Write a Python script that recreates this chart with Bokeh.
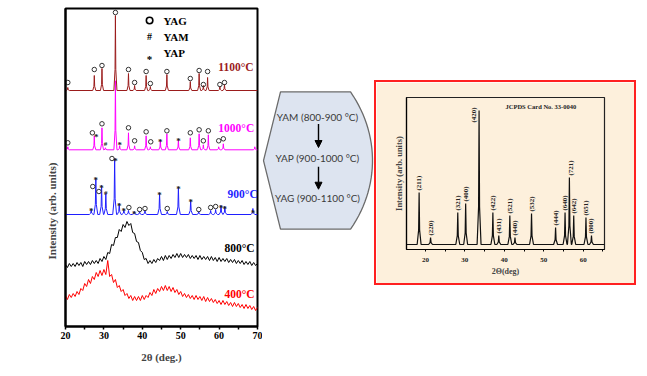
import numpy as np
from bokeh.plotting import figure
from bokeh.models import Range1d, FixedTicker, Title, Arrow, NormalHead, Spacer
from bokeh.layouts import row, column
from bokeh.core.properties import value
from bokeh.embed import file_html
from bokeh.resources import INLINE

SERIF = "Liberation Serif"

# ---------------- data: main XRD panel (heights in arb. units) ----------------
base_1100, base_1000, base_900 = 236, 176.7, 112

p1100_x = [20.6, 27.5, 29.5, 33.0, 36.4, 38.0, 41.0, 42.1, 46.4, 52.5, 54.8, 55.9, 57.0, 60.2, 61.4]
p1100_h = [3, 15, 22, 75, 17, 5, 15, 4, 16, 9, 17, 5, 13, 4, 6]

p1000_x = [20.6, 27.5, 29.5, 30.4, 33.0, 34.1, 36.4, 38.0, 41.0, 42.1, 44.7, 46.4, 49.4, 52.5, 54.8, 55.9, 57.2, 59.9, 61.1, 69.3]
p1000_h = [3, 14, 22, 2, 69, 4, 17, 4, 14, 3, 10, 16, 10, 12, 16, 5, 15, 3, 6, 3]

p900_x = [26.7, 27.9, 29.4, 30.5, 32.8, 34.0, 35.2, 36.4, 37.9, 39.3, 40.7, 44.5, 46.5, 49.4, 52.6, 54.7, 57.8, 59.1, 60.5, 61.5, 68.8]
p900_h = [5, 36, 29, 21, 56, 11, 5, 4, 3, 3, 4, 21, 3, 27, 14, 3, 4, 5, 9, 8, 6]

# amorphous patterns, sampled every 0.5 deg from 20 to 70
amorph_x = [20 + 0.5 * i for i in range(101)]
i800 = [62, 59, 63, 60, 63, 60, 64, 61, 64, 60, 65, 62, 65, 62, 66, 63, 66, 63, 68, 65,
        70, 67, 74, 73, 82, 81, 89, 89, 97, 95, 102, 99, 105, 101, 103, 94, 93, 85, 84, 76,
        74, 67, 68, 63, 66, 63, 67, 64, 68, 66, 70, 66, 71, 67, 71, 68, 72, 69, 73, 69,
        73, 69, 72, 69, 72, 68, 71, 68, 71, 67, 71, 67, 70, 67, 70, 66, 70, 66, 69, 65,
        69, 65, 68, 65, 68, 64, 67, 64, 67, 63, 66, 63, 66, 62, 65, 62, 65, 61, 64, 61, 63]
i400 = [31, 27, 32, 29, 33, 30, 35, 32, 38, 36, 43, 40, 47, 43, 50, 47, 54, 50, 56, 51,
        57, 52, 66, 50, 52, 44, 47, 39, 41, 35, 37, 31, 33, 28, 31, 26, 30, 26, 30, 26,
        31, 27, 31, 29, 34, 31, 37, 33, 38, 35, 40, 36, 41, 36, 40, 35, 39, 34, 37, 32,
        35, 30, 33, 29, 32, 28, 31, 27, 31, 27, 30, 26, 30, 25, 29, 25, 28, 24, 27, 23,
        26, 22, 26, 22, 25, 21, 24, 20, 24, 20, 23, 19, 22, 18, 22, 18, 21, 17, 20, 16, 19]

# phase markers: position, height above baseline, kind
m1100_x = [20.6, 27.5, 29.5, 33.0, 36.4, 38.0, 41.0, 42.1, 46.4, 52.5, 54.8, 55.9, 57.0, 60.2, 61.4]
m1100_h = [8, 21, 25, 78, 21, 8, 19, 7, 19, 12, 20, 6, 19, 6, 8]
m1100_k = ["o"] * 15

m1000_x = [20.6, 27.0, 28.0, 29.5, 30.4, 34.1, 36.4, 38.0, 41.0, 42.2, 44.7, 46.4, 49.4, 52.5, 54.8, 55.9, 57.2, 59.9, 61.1]
m1000_h = [7, 17, 18, 26, 6, 10, 22, 9, 18, 8, 13, 19, 14, 17, 20, 9, 19, 9, 11]
m1000_k = ["o", "o", "*", "o", "#", "*", "o", "o", "o", "o", "*", "o", "*", "o", "o", "o", "o", "o", "o"]

m900_x = [26.7, 27.1, 27.9, 28.7, 29.4, 30.5, 32.1, 33.0, 34.0, 35.2, 36.5, 37.9, 39.3, 40.7, 44.5, 46.5, 49.4, 52.6, 54.7, 57.8, 59.1, 60.5, 61.5, 68.8]
m900_h = [9, 28, 40, 23, 32, 22, 56, 59, 14, 9, 7, 6, 5, 6, 25, 6, 31, 18, 5, 7, 8, 12, 11, 7]
m900_k = ["*", "o", "*", "o", "*", "#", "o", "*", "*", "*", "o", "*", "o", "o", "*", "o", "*", "*", "o", "o", "o", "*", "*", "*"]

temps = ["1100°C", "1000°C", "900°C", "800°C", "400°C"]
temp_colors = ["#9b1c1c", "#ff00ff", "#1f1fff", "#000000", "#ff0000"]
temp_x = [59.8, 59.8, 62.2, 61.4, 61.4]
temp_y = [260, 199, 133, 79, 33]

legend_sym = ["o", "#", "*"]
legend_txt = ["YAG", "YAM", "YAP"]
legend_y = [306, 290, 274]

x_ticks = [20, 30, 40, 50, 60, 70]
x_minor = [25, 35, 45, 55, 65]

# ---------------- data: JCPDS reference inset ----------------
jc_base = 5
jc_x = [18.4, 21.3, 28.2, 30.2, 33.6, 37.1, 38.6, 41.4, 42.7, 46.9, 53.0, 55.4, 56.5, 57.6, 60.7, 62.1]
jc_h = [52, 7, 32, 41, 134, 32, 9, 29, 7, 31, 17, 32, 67, 29, 27, 9]
jc_hkl = ["(211)", "(220)", "(321)", "(400)", "(420)", "(422)", "(431)", "(521)",
          "(440)", "(532)", "(444)", "(640)", "(721)", "(642)", "(651)", "(800)"]
jc_ticks = [20, 30, 40, 50, 60]
jc_minor = [15, 25, 35, 45, 55, 65]

steps = ["YAM (800-900 °C)", "YAP (900-1000 °C)", "YAG (900-1100 °C)"]


def pattern(pos, hgt, base, w, x0, x1):
    xs, ys = [x0], [base]
    for p, h in sorted(zip(pos, hgt)):
        xs += [p - w, p - 0.25 * w, p, p + 0.25 * w, p + w]
        ys += [base, base + 0.28 * h, base + h, base + 0.28 * h, base]
    xs.append(x1)
    ys.append(base)
    return xs, ys


def bold_text(fig, x, y, txt, size, color="black", align="left", baseline="middle", angle=0, font=SERIF, style="bold"):
    fig.text(x=x, y=y, text=txt, text_font=value(font), text_font_size=size,
             text_font_style=style, text_color=color, text_align=align,
             text_baseline=baseline, angle=angle)


# ================= left: XRD patterns =================
p1 = figure(width=262, height=366, x_range=Range1d(20, 70), y_range=Range1d(0, 318),
            output_backend="svg", toolbar_location=None,
            min_border_left=65, min_border_right=5, min_border_top=8, min_border_bottom=40)
p1.xgrid.visible = False
p1.ygrid.visible = False
p1.outline_line_color = "black"
p1.outline_line_width = 2
p1.outline_line_alpha = 1

xa = p1.xaxis[0]
xa.ticker = FixedTicker(ticks=x_ticks, minor_ticks=x_minor)
xa.axis_line_width = 2
xa.major_tick_in = 0
xa.major_tick_out = 3
xa.minor_tick_in = 0
xa.minor_tick_out = 3
xa.major_tick_line_width = 1.5
xa.minor_tick_line_width = 1.5
xa.major_label_standoff = 2
xa.major_label_text_font = SERIF
xa.major_label_text_font_style = "bold"
xa.major_label_text_font_size = "10px"
xa.major_label_text_color = "black"
xa.axis_label = "2θ (deg.)"
xa.axis_label_text_font = SERIF
xa.axis_label_text_font_style = "bold"
xa.axis_label_text_font_size = "11px"
xa.axis_label_standoff = 9

ya = p1.yaxis[0]
ya.ticker = FixedTicker(ticks=[])
ya.axis_line_width = 2
ya.major_label_text_font_size = "0px"
p1.add_layout(Title(text="Intensity (arb. units)", align="left", offset=67,
                    text_font=SERIF, text_font_style="bold", text_font_size="11px",
                    standoff=16), "left")

curves = [
    pattern(p1100_x, p1100_h, base_1100, 0.4, 20, 70),
    pattern(p1000_x, p1000_h, base_1000, 0.4, 20, 70),
    pattern(p900_x, p900_h, base_900, 0.5, 20, 70),
    (amorph_x, i800),
    (amorph_x, i400),
]
# draw lowest first so upper patterns overlap like the original
for (xs, ys), col in list(zip(curves, temp_colors))[::-1]:
    p1.line(xs, ys, line_color=col, line_width=1)

for mx, mh, mk, base in [(m1100_x, m1100_h, m1100_k, base_1100),
                         (m1000_x, m1000_h, m1000_k, base_1000),
                         (m900_x, m900_h, m900_k, base_900)]:
    ox = [x for x, k in zip(mx, mk) if k == "o"]
    oy = [base + h for h, k in zip(mh, mk) if k == "o"]
    p1.scatter(ox, oy, marker="circle", size=4.5, fill_color=None, line_color="#333333", line_width=1)
    for sym, sz in (("*", "9px"), ("#", "7px")):
        sx = [x for x, k in zip(mx, mk) if k == sym]
        sy = [base + h for h, k in zip(mh, mk) if k == sym]
        if sx:
            bold_text(p1, sx, sy, [sym] * len(sx), sz, color="#222222", align="center",
                      baseline="middle" if sym == "#" else "top")

for t, c, x, y in zip(temps, temp_colors, temp_x, temp_y):
    bold_text(p1, [x], [y], [t], "11.5px", color=c)

# legend
p1.scatter([41.9], [legend_y[0]], marker="circle", size=6.5, fill_color=None, line_color="black", line_width=1.6)
bold_text(p1, [41.9], [legend_y[1]], [legend_sym[1]], "10px", align="center")
bold_text(p1, [41.9], [legend_y[2]], [legend_sym[2]], "11px", align="center", baseline="top")
bold_text(p1, [45.5] * 3, legend_y, legend_txt, "11px")

# ================= middle: transformation scheme =================
p2 = figure(width=112, height=366, x_range=Range1d(0, 112), y_range=Range1d(0, 366),
            output_backend="svg", toolbar_location=None, min_border=0,
            x_axis_type=None, y_axis_type=None)
p2.grid.visible = False
p2.outline_line_color = None

ang = np.linspace(np.radians(31.1), np.radians(-31.1), 30)
arc_x = list(-42.8 + 152.8 * np.cos(ang))
arc_y = list(191 + 152.8 * np.sin(ang))
shape_x = [1, 18] + arc_x + [18]
shape_y = [191, 270] + arc_y + [112]
p2.patch(shape_x, shape_y, fill_color="#dde4f0", line_color="#6b6b6b", line_width=1.3)

bold_text(p2, [55] * 3, [241, 194, 148], steps, "10px", color="#3a3a3a", align="center",
          font="Lato", style="normal")
for y0, y1 in [(233, 206), (184, 158)]:
    p2.add_layout(Arrow(end=NormalHead(size=7, fill_color="black", line_color="black"),
                        x_start=56, y_start=y0, x_end=56, y_end=y1,
                        line_color="black", line_width=1.4))

# ================= right: JCPDS inset =================
p3 = figure(width=262, height=205, x_range=Range1d(15.2, 65.4), y_range=Range1d(0, 152),
            output_backend="svg", toolbar_location=None,
            min_border_left=30, min_border_right=34, min_border_top=15, min_border_bottom=38,
            background_fill_color="#fdf0dc", border_fill_color="#fdf0dc")
p3.styles = {"border": "2px solid #ff2020"}
p3.xgrid.visible = False
p3.ygrid.visible = False
p3.outline_line_color = "#222222"
p3.outline_line_width = 1.2
p3.outline_line_alpha = 1

xa3 = p3.xaxis[0]
xa3.ticker = FixedTicker(ticks=jc_ticks, minor_ticks=jc_minor)
xa3.axis_line_width = 1.2
xa3.major_tick_in = 0
xa3.major_tick_out = 2
xa3.minor_tick_in = 0
xa3.minor_tick_out = 2
xa3.major_label_standoff = 6
xa3.major_label_text_font = SERIF
xa3.major_label_text_font_style = "bold"
xa3.major_label_text_font_size = "7px"
xa3.major_label_text_color = "#222222"
xa3.axis_label = "2Θ(deg)"
xa3.axis_label_text_font = SERIF
xa3.axis_label_text_font_style = "bold"
xa3.axis_label_text_font_size = "8px"
xa3.axis_label_standoff = 2

ya3 = p3.yaxis[0]
ya3.ticker = FixedTicker(ticks=[])
ya3.axis_line_width = 1.2
ya3.major_label_text_font_size = "0px"
ya3.axis_label = "Intensity (arb. units)"
ya3.axis_label_text_font = SERIF
ya3.axis_label_text_font_style = "bold"
ya3.axis_label_text_font_size = "8.5px"
ya3.axis_label_standoff = 3

jx, jy = pattern(jc_x, jc_h, jc_base, 0.5, 15.2, 65.4)
p3.line(jx, jy, line_color="#111111", line_width=1.2)

lab_x = [x for x in jc_x]
lab_y = [jc_base + h + 2 for h in jc_h]
i420 = jc_hkl.index("(420)")
lab_x[i420] = 32.4
lab_y[i420] = 127
i721 = jc_hkl.index("(721)")
lab_x[i721] = 56.8
bold_text(p3, lab_x, lab_y, jc_hkl, "7px", color="#222222", baseline="middle", angle=np.pi / 2)
bold_text(p3, [40.3], [143.3], ["JCPDS Card No. 33-0040"], "6.5px", color="#222222")

layout = row(p1, p2, column(Spacer(height=80), p3))

open("out.html", "w").write(file_html(layout, INLINE))
